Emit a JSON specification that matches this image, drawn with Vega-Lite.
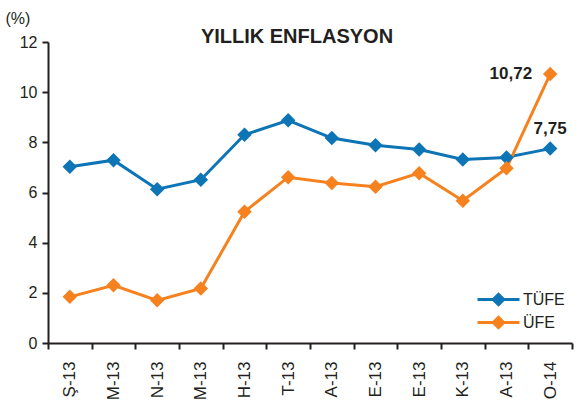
{
  "$schema": "https://vega.github.io/schema/vega-lite/v6.json",
  "width": 524,
  "height": 301,
  "autosize": {"type": "none"},
  "padding": {"left": 48, "top": 42, "right": 10, "bottom": 62},
  "background": "white",
  "title": {"text": "YILLIK ENFLASYON", "font": "Liberation Sans", "fontSize": 20, "fontWeight": "bold", "color": "#231f20", "anchor": "middle", "frame": "group", "orient": "top", "offset": 0, "dx": -13, "dy": 37},
  "data": {"values": [
    {"ay": "2013-02", "seri": "TÜFE", "deger": 7.03},
    {"ay": "2013-03", "seri": "TÜFE", "deger": 7.29},
    {"ay": "2013-04", "seri": "TÜFE", "deger": 6.13},
    {"ay": "2013-05", "seri": "TÜFE", "deger": 6.51},
    {"ay": "2013-06", "seri": "TÜFE", "deger": 8.30},
    {"ay": "2013-07", "seri": "TÜFE", "deger": 8.88},
    {"ay": "2013-08", "seri": "TÜFE", "deger": 8.17},
    {"ay": "2013-09", "seri": "TÜFE", "deger": 7.88},
    {"ay": "2013-10", "seri": "TÜFE", "deger": 7.71},
    {"ay": "2013-11", "seri": "TÜFE", "deger": 7.32},
    {"ay": "2013-12", "seri": "TÜFE", "deger": 7.40},
    {"ay": "2014-01", "seri": "TÜFE", "deger": 7.75},
    {"ay": "2013-02", "seri": "ÜFE", "deger": 1.84},
    {"ay": "2013-03", "seri": "ÜFE", "deger": 2.30},
    {"ay": "2013-04", "seri": "ÜFE", "deger": 1.70},
    {"ay": "2013-05", "seri": "ÜFE", "deger": 2.17},
    {"ay": "2013-06", "seri": "ÜFE", "deger": 5.23},
    {"ay": "2013-07", "seri": "ÜFE", "deger": 6.61},
    {"ay": "2013-08", "seri": "ÜFE", "deger": 6.38},
    {"ay": "2013-09", "seri": "ÜFE", "deger": 6.23},
    {"ay": "2013-10", "seri": "ÜFE", "deger": 6.77},
    {"ay": "2013-11", "seri": "ÜFE", "deger": 5.67},
    {"ay": "2013-12", "seri": "ÜFE", "deger": 6.97},
    {"ay": "2014-01", "seri": "ÜFE", "deger": 10.72}
  ]},
  "encoding": {
    "x": {
      "field": "ay", "type": "ordinal",
      "scale": {"paddingInner": 0, "paddingOuter": 0},
      "axis": {
        "title": null,
        "labelExpr": "{'2013-02':'Ş-13','2013-03':'M-13','2013-04':'N-13','2013-05':'M-13','2013-06':'H-13','2013-07':'T-13','2013-08':'A-13','2013-09':'E-13','2013-10':'E-13','2013-11':'K-13','2013-12':'A-13','2014-01':'O-14'}[datum.value]",
        "labelAngle": -90, "labelAlign": "right", "labelBaseline": "middle",
        "labelFont": "Liberation Sans", "labelFontSize": 17, "labelColor": "#231f20", "labelPadding": 12,
        "tickBand": "extent", "tickColor": "#231f20", "tickWidth": 2, "tickSize": 6,
        "domainColor": "#231f20", "domainWidth": 2, "grid": false
      }
    },
    "y": {
      "field": "deger", "type": "quantitative",
      "scale": {"domain": [0, 12]},
      "axis": {
        "values": [0, 2, 4, 6, 8, 10, 12],
        "title": "(%)", "titleAngle": 0, "titleX": -43, "titleY": -19, "titleAlign": "left", "titleBaseline": "alphabetic",
        "titleFont": "Liberation Sans", "titleFontSize": 16, "titleFontWeight": "normal", "titleColor": "#231f20",
        "labelFont": "Liberation Sans", "labelFontSize": 16, "labelColor": "#231f20", "labelPadding": 5,
        "tickColor": "#231f20", "tickWidth": 2, "tickSize": 6,
        "domainColor": "#231f20", "domainWidth": 2, "grid": false
      }
    },
    "color": {
      "field": "seri", "type": "nominal",
      "scale": {"domain": ["TÜFE", "ÜFE"], "range": ["#0d74b5", "#f5821f"]},
      "legend": {
        "title": null, "orient": "none", "legendX": 440, "legendY": 247,
        "symbolType": "M-2,-0.14L2,-0.14L2,0.14L-2,0.14Z M-0.7,0L0,-0.7L0.7,0L0,0.7Z",
        "symbolSize": 441, "symbolStrokeWidth": 0, "symbolOpacity": 1,
        "labelFont": "Liberation Sans", "labelFontSize": 16, "labelColor": "#231f20",
        "rowPadding": 4, "labelOffset": 14
      }
    }
  },
  "layer": [
    {"mark": {"type": "line", "strokeWidth": 3}},
    {"mark": {"type": "point", "shape": "diamond", "filled": true, "size": 210, "opacity": 1}},
    {
      "transform": [{"filter": "datum.ay == '2014-01' && datum.seri == 'ÜFE'"}],
      "mark": {"type": "text", "align": "right", "baseline": "middle", "dx": -18, "font": "Liberation Sans", "fontSize": 17, "fontWeight": "bold", "color": "#231f20"},
      "encoding": {"text": {"field": "deger", "type": "quantitative", "format": ".2f"}, "color": {"value": "#231f20"}}
    },
    {
      "transform": [{"filter": "datum.ay == '2014-01' && datum.seri == 'TÜFE'"}],
      "mark": {"type": "text", "align": "center", "baseline": "bottom", "dy": -11, "font": "Liberation Sans", "fontSize": 17, "fontWeight": "bold", "color": "#231f20"},
      "encoding": {"text": {"field": "deger", "type": "quantitative", "format": ".2f"}, "color": {"value": "#231f20"}}
    }
  ],
  "config": {
    "view": {"stroke": null},
    "locale": {"number": {"decimal": ",", "thousands": ".", "grouping": [3], "currency": ["", " TL"]}}
  }
}
